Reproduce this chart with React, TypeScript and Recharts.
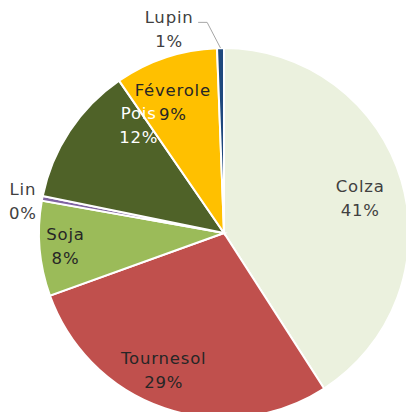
import { Cell, Pie, PieChart } from "recharts";

// oilseed / protein crop shares (%)
const crops = ["Colza", "Tournesol", "Soja", "Lin", "Pois", "Féverole", "Lupin"];
const shares = [40.9, 28.6, 8.3, 0.4, 12.2, 9.0, 0.6];

const COLORS = ["#EBF1DE", "#C0504D", "#9BBB59", "#8064A2", "#4F6228", "#FFC000", "#1F497D"];
const TEXT_COLORS = ["#404040", "#262626", "#262626", "#404040", "#FFFFFF", "#262626", "#404040"];

// label nudges: radius factor and angle shift (deg, clockwise)
const LABEL_POS = [
  { r: 0.76, da: 2 },
  { r: 0.81, da: 5 },
  { r: 0.86, da: 0 },
  { r: 1.1, da: -2 },
  { r: 0.74, da: 18 },
  { r: 0.76, da: -3 },
  { r: 1.14, da: -14 },
];

const data = crops.map((name, i) => ({ name, value: shares[i] }));

const RAD = Math.PI / 180;
const FONT = { fontFamily: "DejaVu Sans", fontSize: 16.5, letterSpacing: 0.8 };

function renderLabel(props: any) {
  const { cx, cy, midAngle, outerRadius, percent, index, name } = props;
  const pos = LABEL_POS[index];
  const a = (midAngle - pos.da) * RAD;
  const r = outerRadius * pos.r;
  const x = cx + r * Math.cos(a);
  const y = cy - r * Math.sin(a);
  const pct = `${Math.round(percent * 100)}%`;
  const color = TEXT_COLORS[index];
  let line = null;
  if (name === "Lupin") {
    const ex = cx + outerRadius * Math.cos(midAngle * RAD);
    const ey = cy - outerRadius * Math.sin(midAngle * RAD);
    line = (
      <polyline
        points={`${x + 29},${y - 7} ${x + 38},${y - 7} ${ex},${ey}`}
        fill="none"
        stroke="#A6A6A6"
        strokeWidth={1}
      />
    );
  }
  return (
    <g>
      {line}
      <text x={x} y={y - 12} textAnchor="middle" dominantBaseline="central" fill={color} style={FONT}>
        {name}
      </text>
      <text x={x} y={y + 12} textAnchor="middle" dominantBaseline="central" fill={color} style={FONT}>
        {pct}
      </text>
    </g>
  );
}

export default function App() {
  return (
    <div style={{ position: "fixed", left: 0, top: 0, width: 406, height: 412, background: "#fff" }}>
      <PieChart width={406} height={412} margin={{ top: 0, right: 0, bottom: 0, left: 0 }}>
        <Pie
          data={data}
          dataKey="value"
          nameKey="name"
          cx={224}
          cy={233}
          outerRadius={185}
          startAngle={90}
          endAngle={-270}
          stroke="#FFFFFF"
          strokeWidth={2}
          label={renderLabel}
          labelLine={false}
          isAnimationActive={false}
        >
          {data.map((entry, index) => (
            <Cell key={`cell-${index}`} fill={COLORS[index]} />
          ))}
        </Pie>
      </PieChart>
    </div>
  );
}
